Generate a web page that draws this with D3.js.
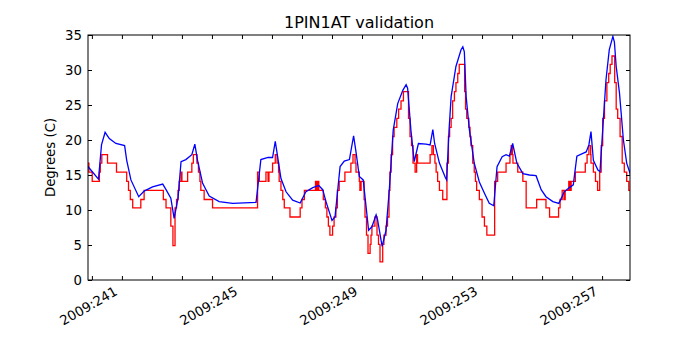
<!DOCTYPE html>
<html>
<head>
<meta charset="utf-8">
<script src="https://cdn.jsdelivr.net/npm/d3@7"></script>
<style>
body { margin: 0; background: #fff; }
text { font-family: "DejaVu Sans", sans-serif; }
</style>
</head>
<body>
<svg id="chart" width="700" height="350"></svg>
<script>
// day of year 2009 (fractional) and temperature in degrees C
var modelDay = [239.85, 240.22, 240.32, 240.44, 240.58, 240.80, 241.09, 241.16, 241.30, 241.56,
  241.74, 242.02, 242.36, 242.47, 242.63, 242.74, 242.87, 242.97, 243.13, 243.33,
  243.43, 243.52, 243.69, 243.91, 244.24, 244.69, 245.47, 245.63, 245.87, 246.02,
  246.11, 246.19, 246.30, 246.47, 246.69, 246.94, 247.13, 247.36, 247.56, 247.69,
  247.80, 248.00, 248.10, 248.27, 248.41, 248.58, 248.72, 248.80, 248.91, 249.04,
  249.22, 249.33, 249.47, 249.52, 249.67, 249.80, 249.91, 250.04, 250.19, 250.36,
  250.47, 250.52, 250.63, 250.74, 250.88, 251.13, 251.27, 251.36, 251.42, 251.58,
  251.78, 251.82, 251.90, 251.97, 252.13, 252.30, 252.36, 252.41, 252.47, 252.58,
  252.74, 252.91, 253.08, 253.24, 253.39, 253.50, 253.67, 253.80, 253.91, 254.02,
  254.16, 254.36, 254.58, 254.80, 254.97, 255.13, 255.36, 255.56, 255.74, 255.91,
  256.04, 256.16, 256.36, 256.47, 256.56, 256.63, 256.71, 256.86, 256.93, 257.02,
  257.13, 257.24, 257.36, 257.41, 257.47, 257.58, 257.71, 257.82, 257.95];
var modelTemp = [16.3, 14.4, 19.3, 21.1, 20.2, 19.5, 19.2, 17.1, 14.3, 11.9,
  12.7, 13.3, 13.7, 12.9, 11.7, 8.8, 11.7, 16.9, 17.2, 17.9,
  19.4, 17.1, 13.8, 12.0, 11.2, 10.95, 11.1, 17.2, 17.5, 17.5,
  19.8, 17.6, 14.5, 12.6, 11.4, 11.0, 12.6, 13.2, 13.5, 12.9,
  11.2, 8.5, 9.0, 16.2, 17.0, 17.2, 20.6, 18.3, 14.8, 14.3,
  7.1, 7.6, 9.3, 8.6, 4.8, 7.1, 12.9, 21.4, 25.2, 27.1,
  27.9, 27.4, 21.4, 16.9, 19.5, 19.4, 19.3, 21.5, 19.5, 16.7,
  14.6, 14.3, 21.4, 26.2, 30.5, 32.9, 33.3, 32.6, 26.2, 21.4,
  16.7, 14.0, 12.4, 10.95, 10.6, 16.2, 17.6, 17.9, 17.7, 19.5,
  16.7, 15.2, 15.0, 14.9, 12.9, 11.9, 11.2, 10.95, 12.6, 13.2,
  13.6, 17.7, 18.1, 18.3, 19.3, 21.2, 17.1, 15.7, 15.5, 21.4,
  28.6, 32.9, 34.8, 34.0, 30.5, 26.7, 20.0, 16.7, 15.0];

// telemetry, stepped (value holds until next sample)
var telemDay = [239.85, 239.90, 240.01, 240.25, 240.28, 240.33, 240.52, 240.82, 241.16, 241.22,
  241.28, 241.36, 241.63, 241.74, 242.38, 242.47, 242.63, 242.70, 242.77, 242.82,
  242.87, 242.91, 242.97, 243.00, 243.19, 243.33, 243.38, 243.50, 243.55, 243.60,
  243.63, 243.74, 244.02, 245.52, 245.58, 245.80, 245.87, 245.90, 246.02, 246.11,
  246.17, 246.22, 246.24, 246.30, 246.36, 246.41, 246.60, 246.94, 247.00, 247.08,
  247.45, 247.47, 247.49, 247.51, 247.53, 247.56, 247.71, 247.78, 247.83, 247.88,
  247.93, 248.02, 248.07, 248.13, 248.18, 248.24, 248.43, 248.63, 248.70, 248.77,
  248.80, 248.91, 248.93, 248.97, 249.07, 249.10, 249.15, 249.20, 249.27, 249.30,
  249.33, 249.43, 249.50, 249.55, 249.60, 249.69, 249.73, 249.80, 249.85, 249.90,
  249.93, 249.97, 250.02, 250.07, 250.16, 250.22, 250.30, 250.38, 250.55, 250.60,
  250.65, 250.70, 250.77, 250.82, 250.85, 251.27, 251.33, 251.38, 251.43, 251.47,
  251.52, 251.58, 251.69, 251.83, 251.88, 251.92, 251.97, 252.02, 252.08, 252.13,
  252.19, 252.24, 252.42, 252.45, 252.49, 252.56, 252.60, 252.63, 252.69, 252.74,
  252.78, 252.82, 252.91, 253.00, 253.08, 253.16, 253.42, 253.52, 253.80, 253.93,
  253.97, 254.01, 254.03, 254.19, 254.36, 254.47, 254.82, 255.13, 255.25, 255.55,
  255.60, 255.67, 255.73, 255.77, 255.89, 255.93, 255.97, 256.11, 256.44, 256.50,
  256.56, 256.62, 256.63, 256.71, 256.78, 256.85, 256.92, 256.97, 257.02, 257.08,
  257.16, 257.22, 257.27, 257.33, 257.42, 257.47, 257.52, 257.60, 257.67, 257.74,
  257.82, 257.89, 257.93, 258.0];
var telemTemp = [16.7, 15.4, 14.1, 15.4, 16.7, 17.9, 16.7, 15.4, 14.1, 12.8,
  11.5, 10.3, 11.5, 12.8, 11.5, 10.3, 7.7, 4.9, 10.3, 11.5,
  12.8, 14.1, 15.4, 14.1, 15.4, 16.7, 17.9, 16.7, 15.4, 14.1,
  12.8, 11.5, 10.3, 15.4, 14.1, 15.4, 14.1, 15.4, 16.7, 17.9,
  16.7, 15.4, 14.1, 12.8, 11.5, 10.3, 9.0, 10.3, 11.5, 12.8,
  14.1, 12.8, 14.1, 12.8, 14.1, 12.8, 11.5, 10.3, 9.0, 7.7,
  6.4, 7.7, 9.0, 10.3, 12.8, 14.1, 15.4, 16.7, 17.9, 16.7,
  15.4, 14.1, 12.8, 14.1, 11.5, 9.0, 6.4, 3.8, 5.1, 6.4,
  7.7, 9.0, 6.4, 5.1, 2.6, 5.1, 6.4, 7.7, 9.0, 12.8,
  15.4, 17.9, 20.5, 21.8, 23.1, 24.4, 25.6, 26.9, 23.1, 20.5,
  19.2, 16.7, 15.4, 17.9, 16.7, 17.9, 19.2, 17.9, 16.7, 15.4,
  14.1, 12.8, 11.5, 16.7, 20.5, 21.8, 23.1, 25.6, 26.9, 28.2,
  29.5, 30.8, 26.9, 24.4, 23.1, 21.8, 20.5, 19.2, 16.7, 15.4,
  14.1, 12.8, 11.5, 9.0, 7.7, 6.4, 14.1, 15.4, 16.7, 17.9,
  19.2, 17.9, 16.7, 15.4, 14.1, 10.3, 11.5, 10.3, 9.0, 10.3,
  11.5, 12.8, 11.5, 12.8, 14.1, 12.8, 14.1, 15.4, 16.7, 17.9,
  19.2, 17.9, 16.7, 15.4, 14.1, 12.8, 15.4, 19.2, 23.1, 25.6,
  28.2, 29.5, 30.8, 32.0, 28.2, 24.4, 23.1, 20.5, 16.7, 15.4,
  14.1, 12.8, 12.8, 12.8];

var xTickDays = d3.range(240, 258);
var xLabelDays = [241, 245, 249, 253, 257];
var yTicks = [0, 5, 10, 15, 20, 25, 30, 35];

var svg = d3.select("#chart"),
    margin = {top: 35, right: 70, bottom: 70, left: 88},
    width = +svg.attr("width") - margin.left - margin.right,
    height = +svg.attr("height") - margin.top - margin.bottom;

var x = d3.scaleLinear().domain([239.87, 257.93]).range([0, width]);
var y = d3.scaleLinear().domain([0, 35]).range([height, 0]);

var g = svg.append("g")
    .attr("transform", "translate(" + margin.left + "," + margin.top + ")");

svg.append("defs").append("clipPath").attr("id", "plotclip")
  .append("rect").attr("width", width).attr("height", height);

var telem = d3.zip(telemDay, telemTemp);
var model = d3.zip(modelDay, modelTemp);

var plot = g.append("g").attr("clip-path", "url(#plotclip)");

plot.append("path")
    .datum(telem)
    .attr("fill", "none")
    .attr("stroke", "#ff0000")
    .attr("stroke-width", 1.3)
    .attr("d", d3.line().curve(d3.curveStepAfter)
        .x(function(d) { return x(d[0]); })
        .y(function(d) { return y(d[1]); }));

plot.append("path")
    .datum(model)
    .attr("fill", "none")
    .attr("stroke", "#0000ff")
    .attr("stroke-width", 1.3)
    .attr("d", d3.line()
        .x(function(d) { return x(d[0]); })
        .y(function(d) { return y(d[1]); }));

// axes: ticks point inward on all four sides
var xAxis = g.append("g")
    .attr("transform", "translate(0," + height + ")")
    .call(d3.axisBottom(x).tickValues(xTickDays).tickSize(-4)
        .tickFormat(function(d) { return xLabelDays.indexOf(d) >= 0 ? "2009:" + d : ""; }));
xAxis.selectAll("text")
    .attr("y", 0).attr("dy", null)
    .attr("transform", "translate(-4,14) rotate(-30)")
    .style("text-anchor", "end");

g.append("g")
    .call(d3.axisTop(x).tickValues(xTickDays).tickSize(-4).tickFormat(""));

g.append("g")
    .call(d3.axisLeft(y).tickValues(yTicks).tickSize(-4).tickPadding(6));

g.append("g")
    .attr("transform", "translate(" + width + ",0)")
    .call(d3.axisRight(y).tickValues(yTicks).tickSize(-4).tickFormat(""));

g.selectAll(".domain").remove();
g.selectAll(".tick line").attr("stroke", "#000");
g.selectAll(".tick text")
    .attr("fill", "#000")
    .style("font-size", "13.3px")
    .style("font-family", "'DejaVu Sans', sans-serif");

g.append("rect")
    .attr("width", width).attr("height", height)
    .attr("fill", "none").attr("stroke", "#000").attr("stroke-width", 1);

svg.append("text")
    .attr("x", margin.left + width / 2)
    .attr("y", 28)
    .attr("text-anchor", "middle")
    .style("font-size", "16px")
    .text("1PIN1AT validation");

svg.append("text")
    .attr("transform", "translate(55," + (margin.top + height / 2) + ") rotate(-90)")
    .attr("text-anchor", "middle")
    .style("font-size", "13.3px")
    .text("Degrees (C)");
</script>
</body>
</html>
